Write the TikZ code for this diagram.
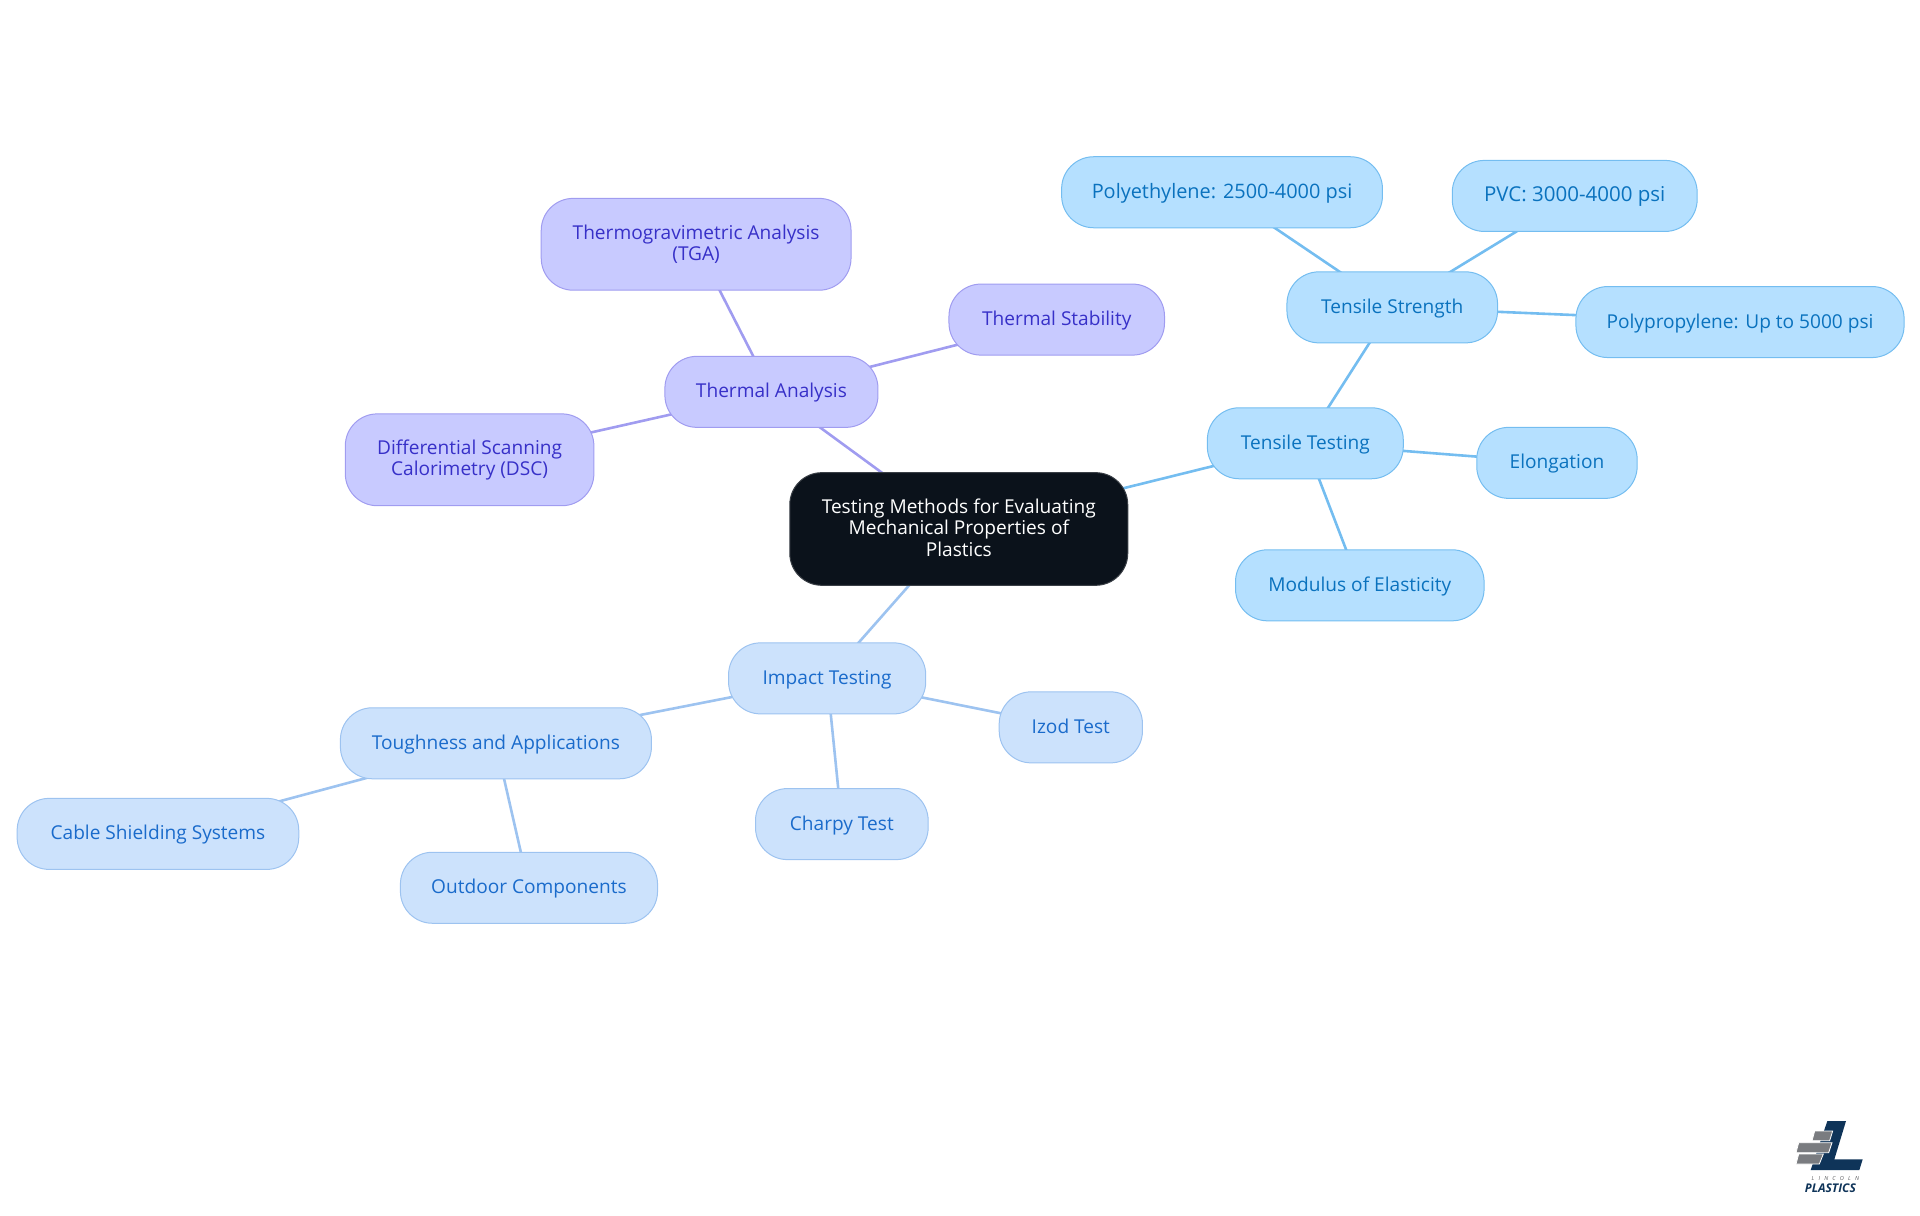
\documentclass[tikz,border=0pt]{standalone}
\usepackage{fontspec}
\setmainfont{Open Sans}
\usetikzlibrary{backgrounds}
\definecolor{rootfill}{HTML}{0B121B}
\definecolor{rootline}{HTML}{3A3F46}
\definecolor{purfill}{HTML}{C8CAFF}
\definecolor{purline}{HTML}{A09CF0}
\definecolor{purtext}{HTML}{3730C8}
\definecolor{blufill}{HTML}{B5E0FF}
\definecolor{bluline}{HTML}{74BDF0}
\definecolor{blutext}{HTML}{0A72BE}
\definecolor{impfill}{HTML}{CCE2FC}
\definecolor{impline}{HTML}{9DC3F0}
\definecolor{imptext}{HTML}{1A6BCB}
\definecolor{logonavy}{HTML}{0F3459}
\definecolor{logogray}{HTML}{7A7C80}
\tikzset{
  x=1.22449pt,y=-1.22449pt,
  mm/.style={rounded corners=32pt,line width=1pt,align=center,inner sep=0pt,font=\fontsize{19.1pt}{21.6pt}\selectfont},
  single/.style={text height=15pt,text depth=3pt},
  widea/.style={font=\fontsize{19.9pt}{21.6pt}\selectfont},
  wideb/.style={font=\fontsize{20.5pt}{21.6pt}\selectfont},
  rootbox/.style={mm,fill=rootfill,draw=rootline,text=white},
  purbox/.style={mm,fill=purfill,draw=purline,text=purtext},
  blubox/.style={mm,fill=blufill,draw=bluline,text=blutext},
  impbox/.style={mm,fill=impfill,draw=impline,text=imptext},
  link/.style={line width=2.6pt},
  purlink/.style={link,draw=purline},
  blulink/.style={link,draw=bluline},
  implink/.style={link,draw=impline},
  barshape/.style={fill=logogray,draw=white,line width=0.8pt},
}
\newcommand{\mmnode}[7]{%
  \pgfmathsetmacro{\mw}{(#3-#2)*1.22449}%
  \pgfmathsetmacro{\mh}{(#5-#4)*1.22449}%
  \node[#6,minimum width=\mw pt,minimum height=\mh pt] (#1) at ({(#2+#3)/2},{(#4+#5)/2}) {#7};}
\begin{document}
\begin{tikzpicture}
\useasboundingbox (0,0) rectangle (1568,992.25);
\mmnode{root}{645}{921}{386}{478}{rootbox}{Testing Methods for Evaluating\\Mechanical Properties of\\Plastics\rule[-3pt]{0pt}{3pt}}
\mmnode{thermal}{543}{717}{291}{349}{purbox,single}{Thermal Analysis}
\mmnode{tga}{442}{695}{162}{237}{purbox}{Thermogravimetric Analysis\\(TGA)}
\mmnode{dsc}{282}{485}{338}{413}{purbox}{Differential Scanning\\Calorimetry (DSC)}
\mmnode{stab}{775}{951}{232}{290}{purbox,single}{Thermal Stability}
\mmnode{tentest}{986}{1146}{333}{391}{blubox,single}{Tensile Testing}
\mmnode{tenstr}{1051}{1223}{222}{280}{blubox,single}{Tensile Strength}
\mmnode{pe}{867}{1129}{128}{186}{blubox,single,widea}{Polyethylene: 2500-4000 psi}
\mmnode{pvc}{1186}{1386}{131}{189}{blubox,single,wideb}{PVC: 3000-4000 psi}
\mmnode{pp}{1287}{1555}{234}{292}{blubox,single}{Polypropylene: Up to 5000 psi}
\mmnode{elong}{1206}{1337}{349}{407}{blubox,single}{Elongation}
\mmnode{mod}{1009}{1212}{449}{507}{blubox,single}{Modulus of Elasticity}
\mmnode{impact}{595}{756}{525}{583}{impbox,single}{Impact Testing}
\mmnode{tough}{278}{532}{578}{636}{impbox,single}{Toughness and Applications}
\mmnode{cable}{14}{244}{652}{710}{impbox,single}{Cable Shielding Systems}
\mmnode{outdoor}{327}{537}{696}{754}{impbox,single}{Outdoor Components}
\mmnode{charpy}{617}{758}{644}{702}{impbox,single}{Charpy Test}
\mmnode{izod}{816}{933}{565}{623}{impbox,single}{Izod Test}
\begin{scope}[on background layer]
\draw[purlink] (root.center)--(thermal.center);
\draw[purlink] (thermal.center)--(tga.center);
\draw[purlink] (thermal.center)--(dsc.center);
\draw[purlink] (thermal.center)--(stab.center);
\draw[blulink] (root.center)--(tentest.center);
\draw[blulink] (tentest.center)--(tenstr.center);
\draw[blulink] (tentest.center)--(elong.center);
\draw[blulink] (tentest.center)--(mod.center);
\draw[blulink] (tenstr.center)--(pe.center);
\draw[blulink] (tenstr.center)--(pvc.center);
\draw[blulink] (tenstr.center)--(pp.center);
\draw[implink] (root.center)--(impact.center);
\draw[implink] (impact.center)--(tough.center);
\draw[implink] (impact.center)--(charpy.center);
\draw[implink] (impact.center)--(izod.center);
\draw[implink] (tough.center)--(cable.center);
\draw[implink] (tough.center)--(outdoor.center);
\end{scope}
% logo
\begin{scope}[x=0.3333pt,y=-0.3333pt,shift={(1790pt,-1115pt)}]
\fill[logonavy] (112,18)--(168,18)--(133,133)--(218,133)--(208,165)--(62,165)--cycle;
\path[barshape] (74,48)--(128,48)--(119,77)--(66,77)--cycle;
\path[barshape] (26,83)--(126,83)--(116,113)--(18,113)--cycle;
\path[barshape] (26,117)--(100,117)--(88,147)--(18,147)--cycle;
\node[inner sep=0pt,text=logogray!75!black,font=\fontsize{5.6pt}{6pt}\selectfont\itshape\addfontfeature{LetterSpace=75}] (logoa) at (136,190) {LINCOLN};
\node[inner sep=0pt,text=logonavy,font=\fontsize{12pt}{13pt}\selectfont\bfseries\itshape] (logob) at (121,219) {PLASTICS};
\end{scope}
\end{tikzpicture}
\end{document}
